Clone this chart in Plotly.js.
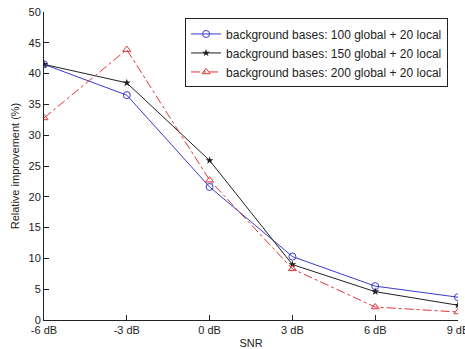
<!DOCTYPE html>
<html>
<head>
<meta charset="utf-8">
<script src="https://cdn.plot.ly/plotly-3.0.1.min.js"></script>
<style>html,body{margin:0;padding:0;background:#fff;}#chart{width:465px;height:349px;}</style>
</head>
<body>
<div id="chart"></div>
<script>
var snr = [-6, -3, 0, 3, 6, 9];
var tickLabels = ['-6 dB', '-3 dB', '0 dB', '3 dB', '6 dB', '9 dB'];
var names = [
  'background bases: 100 global + 20 local',
  'background bases: 150 global + 20 local',
  'background bases: 200 global + 20 local'
];
var bases100 = [41.5, 36.5, 21.6, 10.3, 5.5, 3.7];
var bases150 = [41.5, 38.5, 25.9, 9.0, 4.6, 2.4];
var bases200 = [32.8, 43.9, 22.7, 8.3, 2.1, 1.3];

var traces = [
  {x: snr, y: bases100, name: names[0], mode: 'lines+markers',
   line: {color: '#3a3ad0', width: 1},
   marker: {symbol: 'circle-open', size: 7, color: '#3a3ad0', line: {width: 1}}},
  {x: snr, y: bases150, name: names[1], mode: 'lines+markers',
   line: {color: '#202020', width: 1},
   marker: {symbol: 'star', size: 6, color: '#202020', line: {width: 0}}},
  {x: snr, y: bases200, name: names[2], mode: 'lines+markers',
   line: {color: '#e03535', width: 1, dash: 'dashdot'},
   marker: {symbol: 'triangle-up-open', size: 7, color: '#e03535', line: {width: 1}}}
];

var layout = {
  width: 465, height: 349,
  margin: {l: 44, r: 7, t: 12, b: 29},
  paper_bgcolor: '#fff', plot_bgcolor: '#fff',
  font: {family: 'Liberation Sans, Arial, sans-serif', size: 11, color: '#222'},
  showlegend: true,
  legend: {x: 0.976, xanchor: 'right', y: 0.979, yanchor: 'top',
    bgcolor: '#fff', bordercolor: '#222', borderwidth: 1,
    font: {size: 12, color: '#222'}, tracegroupgap: 0, itemwidth: 30},
  xaxis: {
    range: [-6, 9], tickvals: snr, ticktext: tickLabels,
    ticks: 'inside', ticklen: 5, tickcolor: '#222',
    showline: true, linecolor: '#222', linewidth: 1, mirror: false,
    showgrid: false, zeroline: false, ticklabeloverflow: 'allow',
    title: {text: 'SNR', font: {size: 11}, standoff: 4},
    tickfont: {size: 11}
  },
  yaxis: {
    range: [0, 50], tickvals: [0,5,10,15,20,25,30,35,40,45,50],
    ticks: 'inside', ticklen: 5, tickcolor: '#222',
    showline: true, linecolor: '#222', linewidth: 1, mirror: false,
    showgrid: false, zeroline: false,
    title: {text: 'Relative improvement (%)', font: {size: 11}, standoff: 6},
    tickfont: {size: 11}
  }
};

Plotly.newPlot('chart', traces, layout, {displayModeBar: false, staticPlot: true});
</script>
</body>
</html>
